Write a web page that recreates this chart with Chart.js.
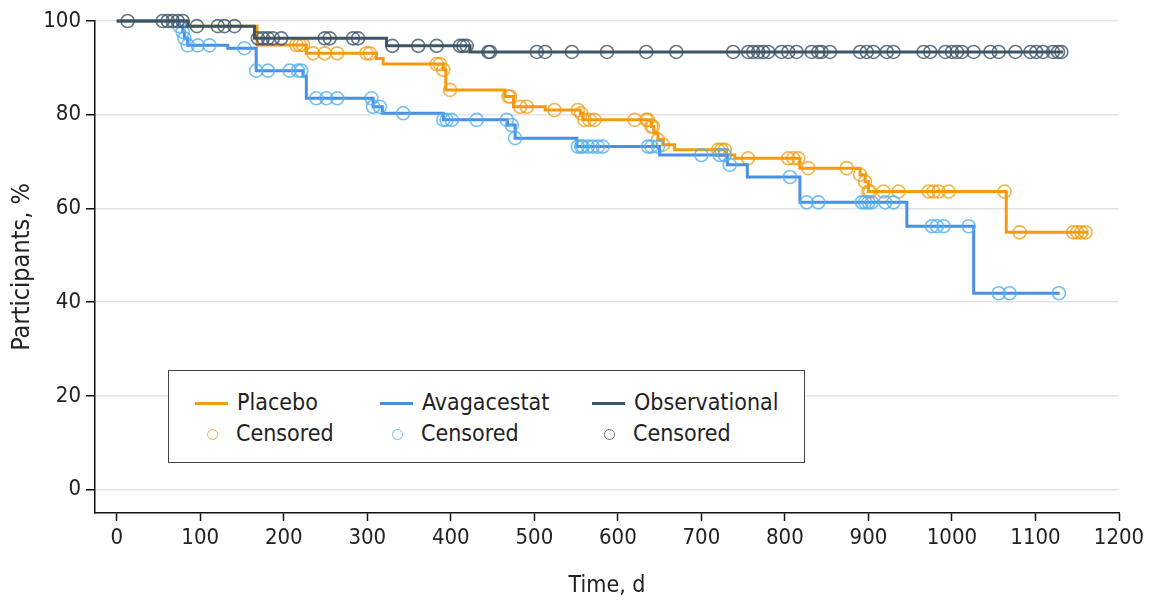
<!DOCTYPE html>
<html>
<head>
<meta charset="utf-8">
<script src="https://cdn.jsdelivr.net/npm/chart.js@4/dist/chart.umd.min.js"></script>
<style>
  body { margin: 0; background: #fff; }
  #wrap { position: relative; width: 1150px; height: 600px; overflow: hidden; }
  #legend {
    position: absolute; left: 168px; top: 370px; width: 637px; height: 93px;
    border: 1.5px solid #444; background: #fff; box-sizing: border-box;
    font-family: "Liberation Sans Narrow", "DejaVu Sans Condensed", sans-serif;
    font-size: 23px; color: #222;
  }
  .item { position: absolute; white-space: nowrap; line-height: 24px; }
  .swatch { display: inline-block; width: 33px; height: 3px; vertical-align: middle; margin-right: 9px; }
  .ring { display: inline-block; width: 9px; height: 9px; border-radius: 50%; border: 1.5px solid; vertical-align: middle; margin: 0 18px 0 12px; }
</style>
</head>
<body>
<div id="wrap">
  <canvas id="chart" width="1150" height="600"></canvas>
  <div id="legend"></div>
</div>
<script>
const FONT = "'Liberation Sans Narrow', 'DejaVu Sans Condensed', sans-serif";

const xTicks = [0, 100, 200, 300, 400, 500, 600, 700, 800, 900, 1000, 1100, 1200];
const yTicks = [0, 20, 40, 60, 80, 100];

// step curves: survival after each time
const placeboTimes = [0, 86, 168, 227, 311, 319, 391, 394, 465, 475, 513, 555, 558, 640, 643, 648, 654, 668, 730, 740, 818, 890, 896, 900, 1065, 1163];
const placeboSurv  = [100, 98.9, 94.9, 93.1, 92.0, 90.8, 89.6, 85.3, 83.9, 81.7, 81.0, 80.3, 78.9, 77.5, 76.1, 74.6, 73.6, 72.5, 71.4, 70.7, 68.6, 67.2, 65.7, 63.6, 54.9, 54.9];
const placeboCensored = [215, 219, 223, 235, 249, 264, 299, 303, 383, 387, 391, 399, 469, 471, 483, 491, 524, 552, 556, 560, 566, 572, 620, 634, 636, 640, 642, 648, 654, 720, 724, 728, 756, 804, 810, 816, 828, 874, 890, 896, 900, 902, 918, 936, 972, 978, 984, 996, 1063, 1081, 1145, 1150, 1155, 1160];

const avagTimes = [0, 75, 79, 81, 85, 133, 167, 223, 227, 307, 318, 391, 468, 477, 551, 650, 731, 755, 818, 946, 1026, 1129];
const avagSurv  = [100, 98.9, 97.7, 96.3, 94.8, 94.2, 89.4, 88.2, 83.5, 81.7, 80.3, 78.9, 77.8, 75.0, 73.2, 71.4, 69.3, 66.7, 61.3, 56.2, 41.9, 41.9];
const avagCensored = [75, 79, 81, 85, 97, 111, 153, 167, 181, 207, 217, 221, 239, 251, 264, 305, 307, 315, 343, 391, 395, 401, 431, 467, 473, 477, 552, 556, 558, 564, 570, 576, 582, 636, 640, 648, 700, 722, 728, 734, 806, 826, 840, 892, 896, 900, 904, 920, 930, 976, 982, 990, 1020, 1056, 1069, 1128];

const obsTimes = [0, 85, 165, 323, 423, 1133];
const obsSurv  = [100, 98.9, 96.3, 94.7, 93.4, 93.4];
const obsCensored = [13, 55, 61, 67, 73, 79, 96, 121, 129, 141, 169, 175, 181, 187, 197, 249, 255, 283, 289, 330, 361, 383, 411, 415, 419, 445, 447, 503, 513, 545, 587, 634, 670, 738, 756, 762, 768, 774, 780, 796, 804, 814, 832, 840, 844, 854, 890, 898, 906, 922, 930, 966, 974, 992, 1000, 1006, 1012, 1026, 1046, 1056, 1076, 1094, 1101, 1109, 1121, 1127, 1131];

const names = ["Placebo", "Avagacestat", "Observational"];
const lineColors = ["#f39a0e", "#4a8fe3", "#3d5567"];
const ringColors = ["rgba(243,154,14,0.75)", "rgba(80,176,240,0.8)", "rgba(61,85,103,0.8)"];

const allTimes = [placeboTimes, avagTimes, obsTimes];
const allSurv = [placeboSurv, avagSurv, obsSurv];
const allCensored = [placeboCensored, avagCensored, obsCensored];

function survAt(times, surv, t) {
    let v = surv[0];
    for (let i = 0; i < times.length; i++) if (times[i] <= t) v = surv[i];
    return v;
}

const datasets = [];
const drawOrder = [4, 2, 0]; // observational on top
names.forEach((name, k) => {
    datasets.push({
        type: "line",
        label: name,
        data: allTimes[k].map((t, i) => ({ x: t, y: allSurv[k][i] })),
        stepped: true,
        borderColor: lineColors[k],
        borderWidth: 3,
        pointRadius: 0,
        fill: false,
        clip: false,
        order: drawOrder[k] + 1,
    });
    datasets.push({
        type: "scatter",
        label: "Censored",
        data: allCensored[k].map(t => ({ x: t, y: survAt(allTimes[k], allSurv[k], t) })),
        pointStyle: "circle",
        pointRadius: 6.5,
        borderColor: ringColors[k],
        backgroundColor: "rgba(0,0,0,0)",
        borderWidth: 1.6,
        clip: false,
        order: drawOrder[k],
    });
});

const tickFont = { family: FONT, size: 22 };

new Chart(document.getElementById("chart"), {
    data: { datasets },
    options: {
        responsive: false,
        animation: false,
        events: [],
        layout: { padding: { top: 21, right: 31, left: 0, bottom: 0 } },
        plugins: { legend: { display: false }, tooltip: { enabled: false } },
        scales: {
            x: {
                type: "linear",
                min: -26,
                max: 1200,
                afterBuildTicks: s => { s.ticks = xTicks.map(v => ({ value: v })); },
                afterFit: s => { s.height = 87; },
                grid: { drawOnChartArea: false, tickLength: 8, tickColor: "#111", tickWidth: 1.5 },
                border: { color: "#111", width: 1.5 },
                ticks: { font: tickFont, color: "#222", padding: 4, maxRotation: 0, autoSkip: false, callback: v => String(v) },
                title: { display: true, text: "Time, d", font: { family: FONT, size: 23 }, color: "#222", padding: 0 },
            },
            y: {
                type: "linear",
                min: -5,
                max: 100,
                afterBuildTicks: s => { s.ticks = yTicks.map(v => ({ value: v })); },
                afterFit: s => { s.width = 95; },
                grid: { color: "#e4e4e4", lineWidth: 1.5, tickLength: 9, tickColor: "#111", tickWidth: 1.5 },
                border: { color: "#111", width: 1.5 },
                ticks: { font: tickFont, color: "#222", padding: 5, callback: v => String(v) },
                title: { display: true, text: "Participants, %", font: { family: FONT, size: 25 }, color: "#222", padding: { top: 7, bottom: 0 } },
            },
        },
    },
});

// legend box
const legend = document.getElementById("legend");
const colX = [26, 211, 423];
names.forEach((name, k) => {
    const a = document.createElement("div");
    a.className = "item";
    a.style.left = colX[k] + "px";
    a.style.top = "19px";
    a.innerHTML = `<span class="swatch" style="background:${lineColors[k]}"></span>${name}`;
    legend.appendChild(a);
    const b = document.createElement("div");
    b.className = "item";
    b.style.left = colX[k] + "px";
    b.style.top = "50px";
    b.innerHTML = `<span class="ring" style="border-color:${ringColors[k]}"></span>Censored`;
    legend.appendChild(b);
});
</script>
</body>
</html>
